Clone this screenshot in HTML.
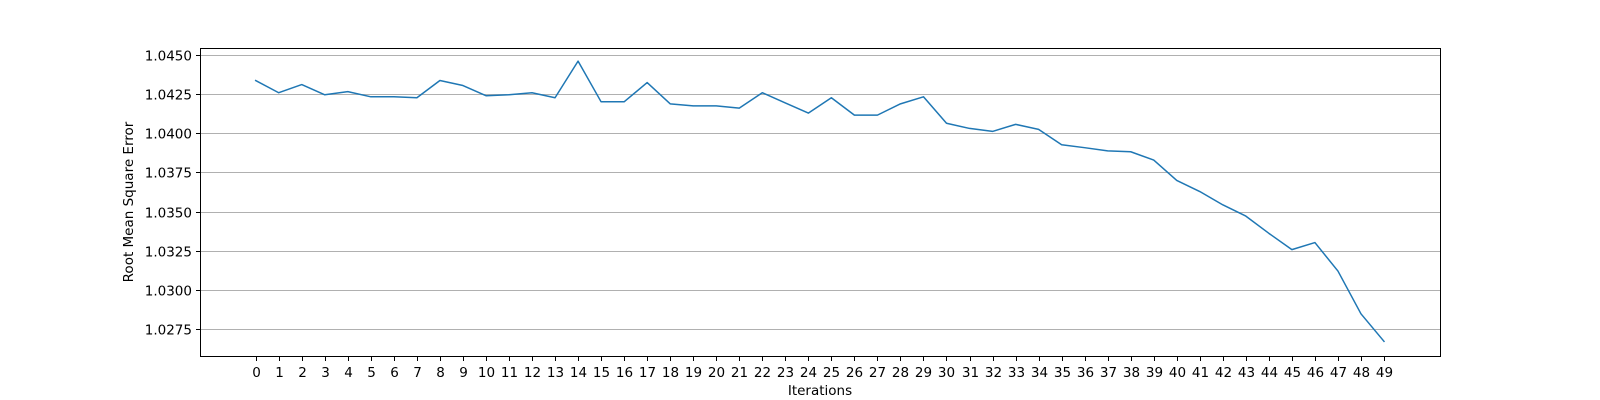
<!DOCTYPE html>
<html><head><meta charset="utf-8"><style>
html,body{margin:0;padding:0;background:#fff;}
svg{display:block;font-family:"DejaVu Sans","Liberation Sans",sans-serif;}
</style></head><body>
<svg id="chart" width="1600" height="400" viewBox="0 0 1600 400" xmlns="http://www.w3.org/2000/svg">
<g id="grid"></g>
<g id="series"></g>
<rect x="200.5" y="48.5" width="1240" height="308" fill="none" stroke="#000" stroke-width="1"/>
<g id="xticks"></g>
<g id="yticks"></g>
<text x="820" y="395" font-size="13.5" text-anchor="middle">Iterations</text>
<text x="133" y="202" font-size="13.5" text-anchor="middle" transform="rotate(-90 133 202)">Root Mean Square Error</text>
</svg>
<script>
const iterations = [0,1,2,3,4,5,6,7,8,9,10,11,12,13,14,15,16,17,18,19,20,21,22,23,24,25,26,27,28,29,30,31,32,33,34,35,36,37,38,39,40,41,42,43,44,45,46,47,48,49];
const rmseValues = [1.04337,1.04259,1.04311,1.04246,1.04266,1.04233,1.04233,1.04227,1.04337,1.04305,1.04240,1.04246,1.04259,1.04227,1.04461,1.04201,1.04201,1.04324,1.04188,1.04175,1.04175,1.04161,1.04259,1.04194,1.04129,1.04227,1.04116,1.04116,1.04188,1.04233,1.04064,1.04031,1.04012,1.04057,1.04025,1.03927,1.03908,1.03888,1.03882,1.03829,1.03699,1.03628,1.03543,1.03471,1.03361,1.03257,1.03302,1.03120,1.02847,1.02671];
const yTickValues = [1.0275,1.0300,1.0325,1.0350,1.0375,1.0400,1.0425,1.0450];
const yTickLabels = ["1.0275","1.0300","1.0325","1.0350","1.0375","1.0400","1.0425","1.0450"];

const NS = "http://www.w3.org/2000/svg";
function xScale(i){ return 255.7 + (i - 0) * (1384 - 255.7) / 49; }
function yScale(v){ return 55 + (1.0450 - v) * (329 - 55) / (1.0450 - 1.0275); }
function mk(tag, attrs){ const e = document.createElementNS(NS, tag); for (const k in attrs) e.setAttribute(k, attrs[k]); return e; }

const grid = document.getElementById('grid');
const yt = document.getElementById('yticks');
yTickValues.forEach((v, i) => {
  const y = Math.round(yScale(v)) + 0.5;
  const g = mk('line', {x1:201, x2:1440, y1:y, y2:y, stroke:'#b0b0b0', 'stroke-width':1});
  
  
  grid.appendChild(g);
  const t = mk('line', {x1:196, x2:200, y1:y, y2:y, stroke:'#000', 'stroke-width':1});
  
  
  yt.appendChild(t);
  const l = mk('text', {x:192, y:y + 5, 'font-size':13.5, 'text-anchor':'end'});
  
  
  l.textContent = yTickLabels[i];
  yt.appendChild(l);
});

const xt = document.getElementById('xticks');
iterations.forEach(i => {
  const x = Math.round(xScale(i)) + 0.5;
  const t = mk('line', {x1:x, x2:x, y1:357, y2:361, stroke:'#000', 'stroke-width':1});
  
  
  xt.appendChild(t);
  const l = mk('text', {x:x, y:377, 'font-size':13.5, 'text-anchor':'middle'});
  
  
  l.textContent = String(i);
  xt.appendChild(l);
});

const pts = iterations.map((i, k) => xScale(i).toFixed(2) + ',' + yScale(rmseValues[k]).toFixed(2)).join(' ');
const line = mk('polyline', {points:pts, fill:'none', stroke:'#1f77b4', 'stroke-width':1.5, 'stroke-linejoin':'round', 'stroke-linecap':'square'});


document.getElementById('series').appendChild(line);
</script>
</body></html>
